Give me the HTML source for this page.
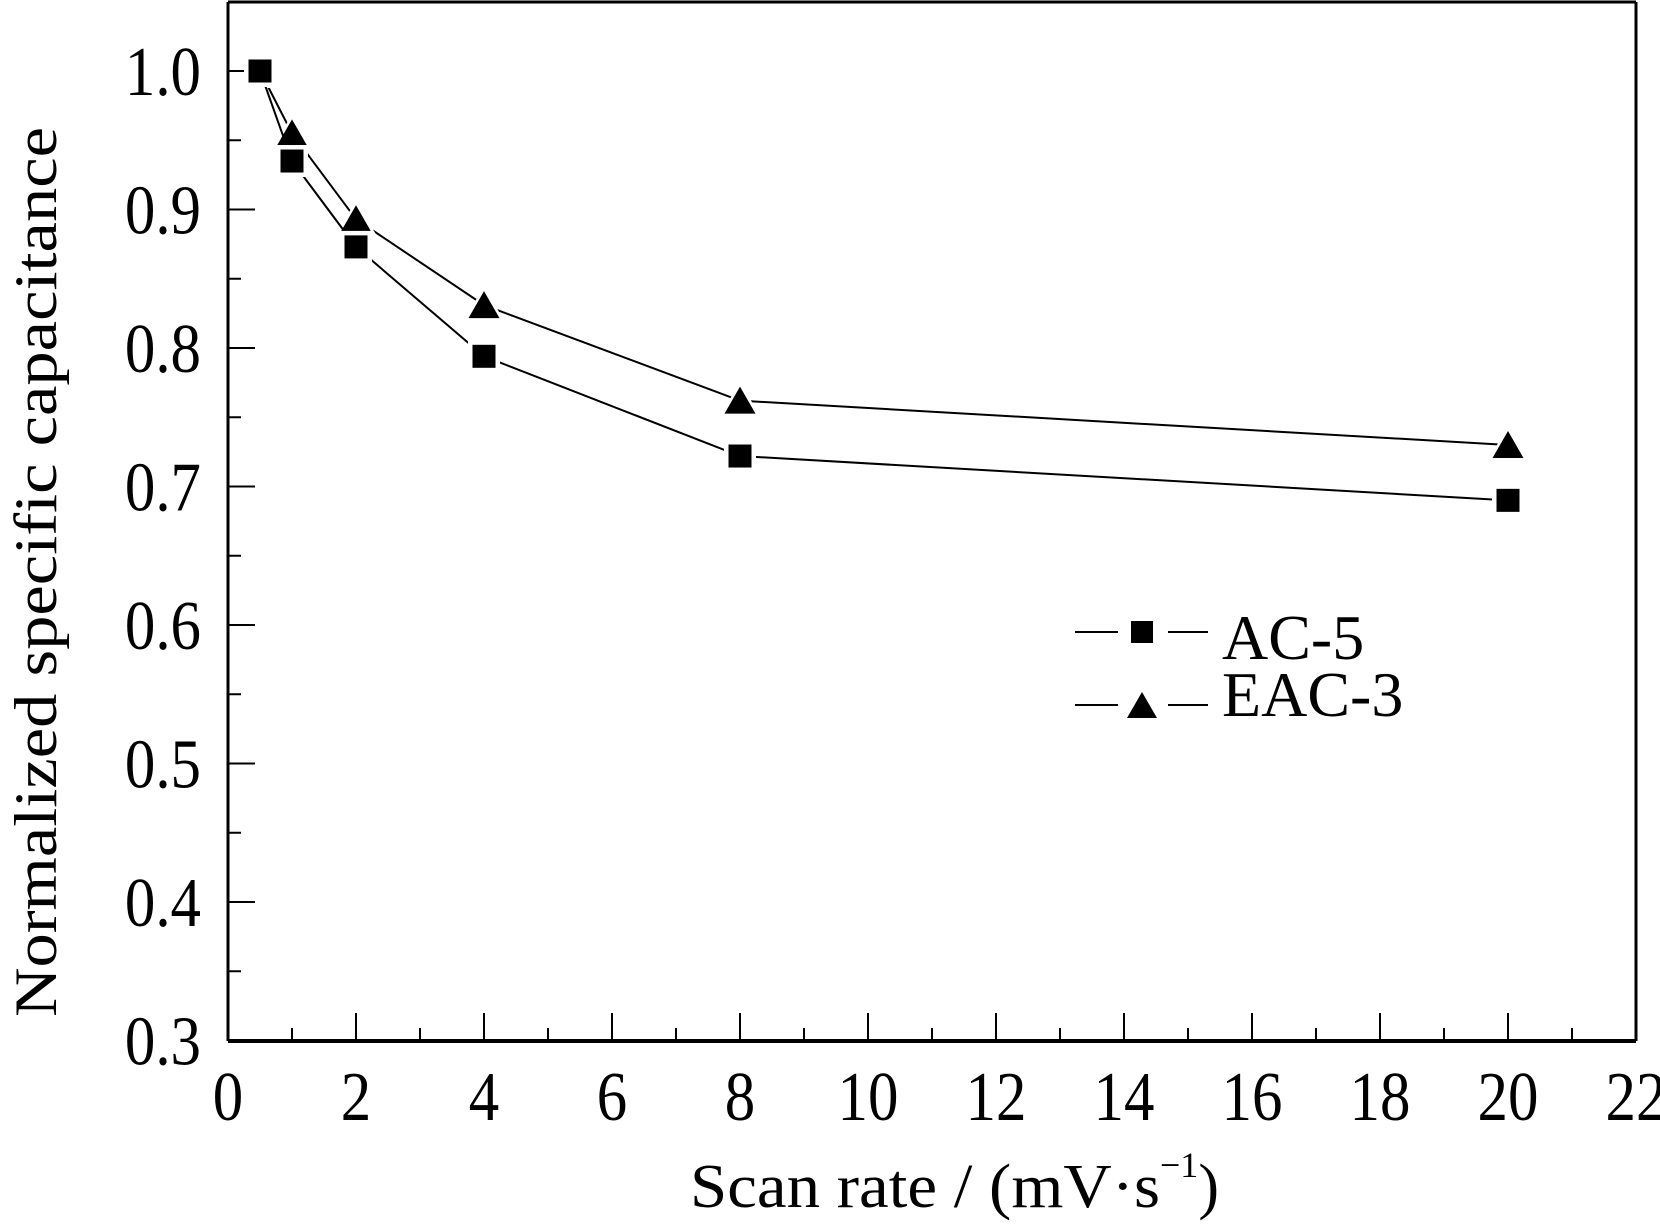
<!DOCTYPE html>
<html><head><meta charset="utf-8"><style>
html,body{margin:0;padding:0;background:#fff;}
svg{display:block;}
text{font-family:"Liberation Serif","Times New Roman",serif;fill:#000;}
</style></head><body>
<svg id="chart" width="1660" height="1229" viewBox="0 0 1660 1229" xmlns="http://www.w3.org/2000/svg">
<g id="axes"></g>
<g id="series"></g>
<g id="legend">
  <line x1="1075" y1="632" x2="1118" y2="632" stroke="#000" stroke-width="2"/>
  <rect x="1131" y="621" width="22" height="22" fill="#000"/>
  <line x1="1168" y1="632" x2="1208" y2="632" stroke="#000" stroke-width="2"/>
  <text x="1222" y="659" font-size="64">AC-5</text>
  <line x1="1075" y1="705" x2="1118" y2="705" stroke="#000" stroke-width="2"/>
  <polygon points="1127,718 1157,718 1142,692" fill="#000"/>
  <line x1="1168" y1="705" x2="1208" y2="705" stroke="#000" stroke-width="2"/>
  <text x="1222" y="716" font-size="64">EAC-3</text>
</g>
<text transform="translate(56,572) rotate(-90)" text-anchor="middle" font-size="60" textLength="890" lengthAdjust="spacingAndGlyphs">Normalized specific capacitance</text>
<text x="690" y="1207" font-size="62"><tspan textLength="470" lengthAdjust="spacingAndGlyphs">Scan rate / (mV·s</tspan><tspan font-size="36" dy="-30">−1</tspan><tspan dy="30">)</tspan></text>
</svg>
<script>
const xTicks = [0,2,4,6,8,10,12,14,16,18,20,22];
const yTicks = [0.3,0.4,0.5,0.6,0.7,0.8,0.9,1.0];
const yTickLabels = ["0.3","0.4","0.5","0.6","0.7","0.8","0.9","1.0"];
const scanRates = [0.5,1,2,4,8,20];
const ac5 = [1.0,0.935,0.873,0.794,0.722,0.69];
const eac3 = [1.0,0.955,0.893,0.831,0.762,0.73];

const X0=228, X1=1636, Y0=1041, YT=2;
function sx(v){return X0+(v-0)/22*(X1-X0);}
function sy(v){return 71+(1.0-v)/0.1*138.5;}
const NS="http://www.w3.org/2000/svg";
function mk(tag,attrs,parent){const e=document.createElementNS(NS,tag);for(const k in attrs)e.setAttribute(k,attrs[k]);parent.appendChild(e);return e;}
const axes=document.getElementById('axes');
const series=document.getElementById('series');

let el;
el=mk('line',{x1:X0,y1:YT,x2:X0,y2:Y0,stroke:'#000','stroke-width':3},axes);


el=mk('line',{x1:X0,y1:Y0,x2:X1,y2:Y0,stroke:'#000','stroke-width':4},axes);


el=mk('line',{x1:X0,y1:YT,x2:X1,y2:YT,stroke:'#000','stroke-width':3},axes);


el=mk('line',{x1:X1,y1:YT,x2:X1,y2:Y0,stroke:'#000','stroke-width':3},axes);



for(let v=0; v<=22; v+=1){
  const major = v%2===0;
  el=mk('line',{x1:sx(v),y1:Y0,x2:sx(v),y2:Y0-(major?28:13),stroke:'#000','stroke-width':2},axes);
  
  
}
xTicks.forEach(v=>{
  const x=sx(v);
  el=mk('text',{x:0,y:0,'text-anchor':'middle','font-size':70,transform:`translate(${x},1120) scale(0.87,1)`},axes);
  el.textContent=String(v);
  
  
});
for(let i=0;i<=14;i++){
  const v=0.3+i*0.05;
  const major=i%2===0;
  el=mk('line',{x1:X0,y1:sy(v),x2:X0+(major?27:13),y2:sy(v),stroke:'#000','stroke-width':2},axes);
  
  
}
yTicks.forEach((v,i)=>{
  el=mk('text',{x:0,y:0,'text-anchor':'end','font-size':70,transform:`translate(201,${sy(v)+24}) scale(0.87,1)`},axes);
  el.textContent=yTickLabels[i];
  
  
});

function drawSeries(vals,kind,name){
  const pts=scanRates.map((x,i)=>sx(x)+','+sy(vals[i])).join(' ');
  el=mk('polyline',{points:pts,fill:'none',stroke:'#000','stroke-width':2},series);
  
  
  scanRates.forEach((x,i)=>{
    const cx=sx(x), cy=sy(vals[i]);
    if(kind==='square'){
      mk('rect',{x:cx-16,y:cy-16,width:32,height:32,fill:'#fff'},series);
      el=mk('rect',{x:cx-11.5,y:cy-11.5,width:23,height:23,fill:'#000'},series);
    } else {
      mk('polygon',{points:`${cx-21},${cy+17} ${cx+21},${cy+17} ${cx},${cy-19}`,fill:'#fff'},series);
      el=mk('polygon',{points:`${cx-15.5},${cy+13} ${cx+15.5},${cy+13} ${cx},${cy-14}`,fill:'#000'},series);
    }
    
    
  });
}
drawSeries(eac3,'triangle','eac3');
drawSeries(ac5,'square','ac5');
</script>
</body></html>
